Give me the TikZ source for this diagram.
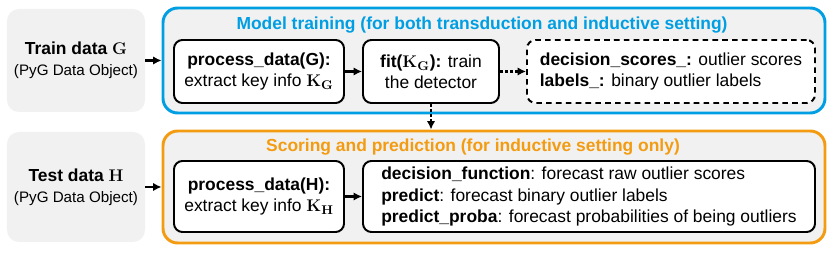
\documentclass[tikz,border=0pt]{standalone}
\usepackage[no-math]{fontspec}
\setmainfont{Liberation Sans}
\usetikzlibrary{arrows.meta}
\definecolor{trainblue}{RGB}{0,158,226}
\definecolor{testorange}{RGB}{243,156,18}
\definecolor{datagray}{RGB}{241,241,241}
\tikzset{
  databox/.style={fill=datagray, rounded corners=8.5pt, minimum width=3.45cm, align=center, inner sep=0pt},
  stagebox/.style={draw, line width=2.1pt, fill=datagray, rounded corners=10.5pt, minimum width=16.55cm, inner sep=0pt},
  stepbox/.style={draw, fill=white, line width=1.4pt, rounded corners=6pt, align=center, inner sep=0pt},
  flow/.style={-{Latex[length=6pt,width=6pt]}, line width=1.8pt},
  dotflow/.style={flow, dash pattern=on 1.8pt off 1.8pt},
}
\newcommand{\smalltext}{\fontsize{10.8pt}{13pt}\selectfont}
\begin{document}
\begin{tikzpicture}[font=\fontsize{12.4pt}{15pt}\selectfont]
\useasboundingbox (0,0) rectangle (20.75,6.325);
% data inputs
\node[databox, minimum height=2.575cm] (train) at (1.9,4.8125) {\textbf{Train data $\mathbf{G}$}\\{\smalltext (PyG Data Object)}};
\node[databox, minimum height=2.75cm] (test) at (1.9,1.65) {\textbf{Test data $\mathbf{H}$}\\{\smalltext (PyG Data Object)}};

% stage frames
\node[stagebox, draw=trainblue, minimum height=2.625cm] (trainstage) at (12.35,4.8125) {};
\node[stagebox, draw=testorange, minimum height=2.8cm] (teststage) at (12.35,1.65) {};
\node[text=trainblue] (traintitle) at (12.05,5.7) {\textbf{Model training (for both transduction and inductive setting)}};
\node[text=testorange] (testtitle) at (11.825,2.65) {\textbf{Scoring and prediction (for inductive setting only)}};

% training steps
\node[stepbox, minimum width=4.25cm, minimum height=1.575cm] (procG) at (6.475,4.5375) {\textbf{process\_data(G):}\\extract key info $\mathbf{K}_{\mathbf{G}}$};
\node[stepbox, minimum width=3.4cm, minimum height=1.575cm] (fit) at (10.775,4.5375) {\textbf{fit($\mathbf{K}_{\mathbf{G}}$):} train\\the detector};
\node[stepbox, dash pattern=on 4pt off 3pt, minimum width=7.2cm, minimum height=1.575cm, align=left] (attrs) at (16.775,4.5375) {\textbf{decision\_scores\_:} outlier scores\\\textbf{labels\_:} binary outlier labels};

% prediction steps
\node[stepbox, minimum width=4.25cm, minimum height=1.775cm] (procH) at (6.475,1.4125) {\textbf{process\_data(H):}\\extract key info $\mathbf{K}_{\mathbf{H}}$};
\node[stepbox, minimum width=11.3cm, minimum height=1.775cm, align=left] (outputs) at (14.725,1.4125) {\textbf{decision\_function}: forecast raw outlier scores\\\textbf{predict}: forecast binary outlier labels\\\textbf{predict\_proba}: forecast probabilities of being outliers};

% connectors
\draw[flow] (train) -- (trainstage);
\draw[flow] (test) -- (teststage);
\draw[flow] (procG) -- (fit);
\draw[dotflow] (fit) -- (attrs);
\draw[dotflow] (fit.south) -- (fit.south |- teststage.north);
\draw[flow] (procH) -- (outputs);
\end{tikzpicture}
\end{document}
